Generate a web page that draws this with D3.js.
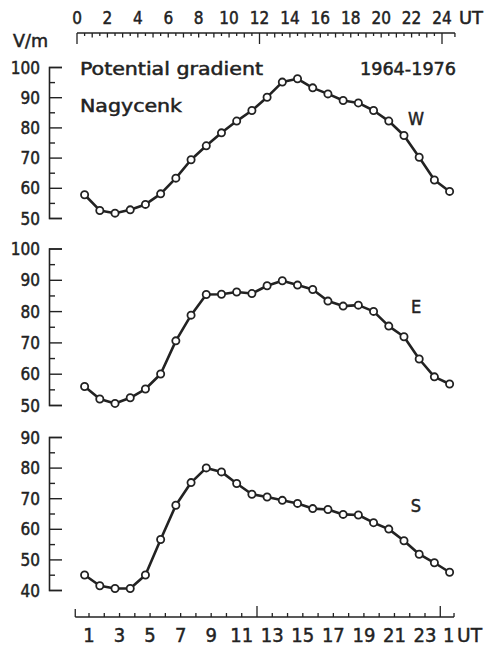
<!DOCTYPE html>
<html>
<head>
<meta charset="utf-8">
<script src="https://cdn.jsdelivr.net/npm/d3@7"></script>
<style>
  html, body { margin: 0; padding: 0; background: #fff; }
  svg text { font-family: "DejaVu Sans Condensed", "DejaVu Sans", sans-serif; font-stretch: condensed; fill: #222; stroke: #222; stroke-width: 0.45px; }
</style>
</head>
<body>
<svg id="chart" width="486" height="647"></svg>
<script>
// ---- data ----
const hours = [0.5,1.5,2.5,3.5,4.5,5.5,6.5,7.5,8.5,9.5,10.5,11.5,12.5,13.5,14.5,15.5,16.5,17.5,18.5,19.5,20.5,21.5,22.5,23.5,24.5];
const valuesW = [57.7,52.5,51.6,52.7,54.5,58.0,63.2,69.3,73.9,78.2,82.1,85.6,90.0,95.0,96.1,93.1,91.1,88.9,88.1,85.6,82.1,77.3,70.1,62.6,58.8];
const valuesE = [55.9,51.9,50.5,52.3,55.1,59.9,70.5,78.7,85.3,85.4,86.1,85.6,88.1,89.7,88.3,86.9,83.2,81.6,81.9,79.9,75.2,71.8,64.7,59.0,56.7];
const valuesS = [44.9,41.4,40.5,40.5,44.9,56.5,67.7,75.1,79.9,78.6,74.8,71.3,70.4,69.3,68.3,66.6,66.3,64.7,64.5,62.0,59.9,56.1,51.7,48.9,45.8];
const yTicksWE = [50,55,60,65,70,75,80,85,90,95,100];
const yTicksS = [40,45,50,55,60,65,70,75,80,85,90];
const topTickLabels = [0,2,4,6,8,10,12,14,16,18,20,22,24];
const bottomTickLabels = [1,3,5,7,9,11,13,15,17,19,21,23];
const directions = ["W","E","S"];

const svg = d3.select("#chart");
const ink = "#222";

// UT scale (top)
const x = d3.scaleLinear().domain([0, 24]).range([77, 442]);
// bottom scale (odd hour labels)
const xb = d3.scaleLinear().domain([1, 23]).range([89, 425]);

// ---- top axis ----
const topTicks = d3.range(0, 24.01, 0.5);
const gTop = svg.append("g").attr("transform", "translate(0,33)");
gTop.append("line").attr("x1", x(0)).attr("x2", x(24.85)).attr("y1", 0).attr("y2", 0)
  .attr("stroke", ink).attr("stroke-width", 1.6);
gTop.selectAll("line.t").data(topTicks).join("line").attr("class","t")
  .attr("x1", d => x(d)).attr("x2", d => x(d)).attr("y1", 0)
  .attr("y2", d => (d === 0 || d === 12 || d === 24) ? 11 : (d % 1 === 0 ? 4.5 : 3))
  .attr("stroke", ink).attr("stroke-width", 1.3);
gTop.append("line").attr("x1", x(24.85)).attr("x2", x(24.85)).attr("y1", 0).attr("y2", 4)
  .attr("stroke", ink).attr("stroke-width", 1.3);
gTop.selectAll("text").data(topTickLabels).join("text")
  .attr("x", d => x(d)).attr("y", -9).attr("text-anchor", "middle")
  .attr("font-size", 17).text(d => d);
gTop.append("text").attr("x", 459).attr("y", -9).attr("font-size", 17)
  .attr("textLength", 24).attr("lengthAdjust", "spacingAndGlyphs").text("UT");

svg.append("text").attr("x", 13).attr("y", 47).attr("font-size", 17)
  .attr("textLength", 35).attr("lengthAdjust", "spacingAndGlyphs").text("V/m");

// ---- panels ----
const panels = [
  { name: directions[0], values: valuesW, domain: [50,100], range: [218, 67], ticks: yTicksWE, labelY: 125 },
  { name: directions[1], values: valuesE, domain: [50,100], range: [405, 248.5], ticks: yTicksWE, labelY: 313 },
  { name: directions[2], values: valuesS, domain: [40,90], range: [590, 437], ticks: yTicksS, labelY: 512 }
];

panels.forEach(p => {
  const y = d3.scaleLinear().domain(p.domain).range(p.range);
  const g = svg.append("g");
  const axis = d3.axisLeft(y).tickValues(p.ticks).tickSize(-13).tickSizeOuter(-13).tickPadding(9)
    .tickFormat(d => d % 10 === 0 ? d : "");
  const ga = g.append("g").attr("transform", "translate(49,0)").call(axis);
  ga.attr("font-family", null).attr("font-size", null);
  ga.select(".domain").attr("stroke", ink).attr("stroke-width", 1.6);
  ga.selectAll(".tick line").attr("stroke", ink).attr("stroke-width", 1.4)
    .attr("x2", d => d % 10 === 0 ? 13 : 6);
  ga.selectAll(".tick text").attr("font-size", 17).attr("fill", ink).attr("dy", "0.36em");

  const pts = hours.map((h, i) => [h, p.values[i]]);
  g.append("path").datum(pts)
    .attr("fill", "none").attr("stroke", ink).attr("stroke-width", 2.6).attr("stroke-linejoin", "round")
    .attr("d", d3.line().x(d => x(d[0])).y(d => y(d[1])));
  g.selectAll("circle").data(pts).join("circle")
    .attr("cx", d => x(d[0])).attr("cy", d => y(d[1])).attr("r", 3.6)
    .attr("fill", "#fff").attr("stroke", ink).attr("stroke-width", 1.8);

  g.append("text").attr("x", 416).attr("y", p.labelY).attr("text-anchor", "middle")
    .attr("font-size", 18).text(p.name);
});

svg.append("text").attr("x", 80).attr("y", 75).attr("font-size", 17)
  .attr("textLength", 183).attr("lengthAdjust", "spacingAndGlyphs").text("Potential gradient");
svg.append("text").attr("x", 360).attr("y", 75).attr("font-size", 17)
  .attr("textLength", 96).attr("lengthAdjust", "spacingAndGlyphs").text("1964-1976");
svg.append("text").attr("x", 80).attr("y", 112).attr("font-size", 17)
  .attr("textLength", 102).attr("lengthAdjust", "spacingAndGlyphs").text("Nagycenk");

// ---- bottom axis ----
const gBot = svg.append("g").attr("transform", "translate(0,617)");
const bTicks = d3.range(1, 24.01, 1);
gBot.append("line").attr("x1", xb(0.1)).attr("x2", xb(24.9)).attr("y1", 0).attr("y2", 0)
  .attr("stroke", ink).attr("stroke-width", 1.6);
gBot.selectAll("line.t").data(bTicks).join("line").attr("class","t")
  .attr("x1", d => xb(d)).attr("x2", d => xb(d)).attr("y1", 0)
  .attr("y2", d => (d === 12 || d === 24) ? -11 : -4)
  .attr("stroke", ink).attr("stroke-width", 1.3);
gBot.append("line").attr("x1", xb(0.1)).attr("x2", xb(0.1)).attr("y1", 0).attr("y2", -8)
  .attr("stroke", ink).attr("stroke-width", 1.3);
gBot.append("line").attr("x1", xb(24.9)).attr("x2", xb(24.9)).attr("y1", 0).attr("y2", -4)
  .attr("stroke", ink).attr("stroke-width", 1.3);
gBot.selectAll("text.l").data(bottomTickLabels).join("text").attr("class","l")
  .attr("x", d => xb(d)).attr("y", 25).attr("text-anchor", "middle")
  .attr("font-size", 20).text(d => d);
gBot.append("text").attr("x", xb(24.55)).attr("y", 25).attr("text-anchor", "middle").attr("font-size", 20).text("1");
gBot.append("text").attr("x", 457).attr("y", 25).attr("font-size", 20)
  .attr("textLength", 25).attr("lengthAdjust", "spacingAndGlyphs").text("UT");
</script>
</body>
</html>
